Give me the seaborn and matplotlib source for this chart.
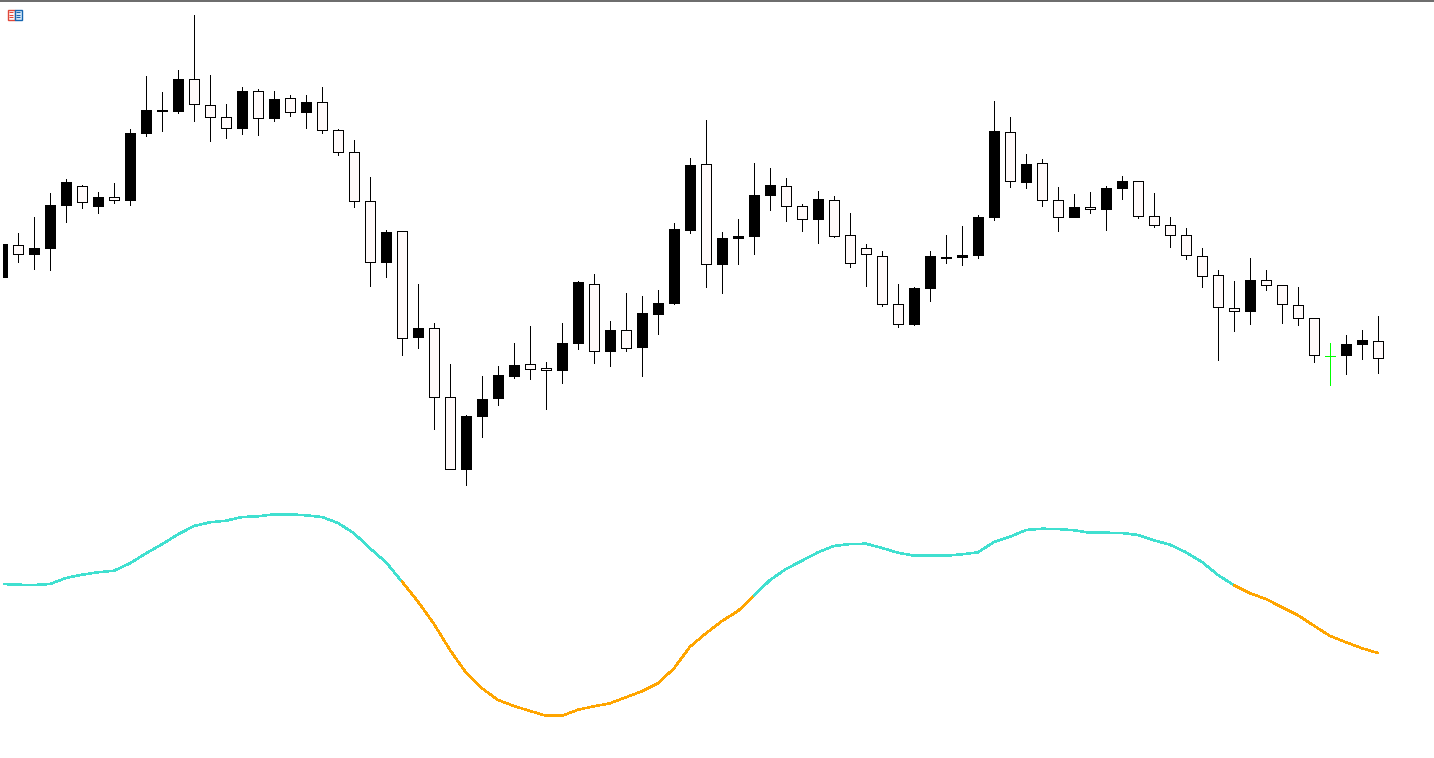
import pandas as pd
import matplotlib
matplotlib.use('Agg')
import matplotlib.pyplot as plt
from matplotlib.patches import Rectangle
import seaborn as sns

# candle values (chart units, 0 = bottom edge)
highs = [514, 525, 541, 565, 579, 573, 566, 575, 629, 682, 666, 688, 743, 683, 654, 671, 669, 667, 663, 663, 671, 629,
         618, 581, 528, 527, 474, 435, 394, 343, 382, 392, 415, 432, 396, 435, 477, 484, 437, 465, 462, 468, 535,
         600, 638, 526, 539, 595, 590, 580, 554, 567, 562, 545, 514, 507, 474, 471, 507, 523, 532, 543, 657,
         641, 604, 599, 571, 564, 566, 572, 582, 577, 565, 541, 530, 510, 488, 477, 500, 488, 473, 471, 440, 415, 423, 428, 442]
body_tops = [514, 513, 510, 553, 576, 572, 561, 561, 625, 648, 648, 679, 679, 653, 641, 667, 667, 659, 660, 656, 656, 628,
             606, 557, 526, 527, 430, 430, 361, 342, 359, 383, 393, 394, 390, 415, 476, 474, 428, 428, 445, 455, 529,
             593, 594, 520, 522, 563, 573, 572, 552, 559, 558, 523, 510, 502, 454, 470, 502, 501, 503, 541, 627,
             626, 594, 595, 558, 551, 551, 570, 577, 577, 542, 533, 523, 502, 483, 450, 478, 478, 473, 453, 440, 402, 414, 418, 417]
body_bottoms = [480, 504, 503, 509, 552, 556, 551, 558, 557, 624, 646, 646, 654, 641, 630, 629, 640, 639, 646, 645, 628, 606,
                557, 496, 495, 420, 420, 361, 289, 288, 341, 359, 381, 389, 388, 387, 414, 407, 406, 410, 410, 443, 454,
                527, 494, 493, 519, 521, 562, 552, 539, 538, 522, 495, 504, 454, 434, 433, 469, 500, 500, 502, 540,
                577, 575, 558, 541, 540, 549, 548, 569, 542, 533, 523, 503, 482, 451, 447, 446, 473, 454, 440, 403, 402, 402, 413, 400]
lows = [480, 495, 488, 487, 535, 549, 544, 554, 552, 621, 626, 644, 636, 616, 619, 623, 622, 636, 641, 629, 624, 602,
        550, 471, 480, 402, 409, 328, 289, 272, 320, 352, 379, 378, 348, 374, 408, 394, 391, 406, 381, 423, 453,
        524, 470, 464, 493, 503, 547, 536, 526, 514, 520, 490, 471, 451, 430, 432, 456, 494, 492, 499, 537,
        570, 569, 551, 526, 540, 544, 527, 558, 539, 530, 510, 498, 470, 397, 426, 433, 467, 434, 432, 395, 372, 383, 398, 384]
kinds = ['B', 'W', 'B', 'B', 'B', 'W', 'B', 'W', 'B', 'B',
         'B', 'B', 'W', 'W', 'W', 'B', 'W', 'B', 'W', 'B',
         'W', 'W', 'W', 'W', 'B', 'W', 'B', 'W', 'W', 'B',
         'B', 'B', 'B', 'W', 'W', 'B', 'B', 'W', 'B', 'W',
         'B', 'B', 'B', 'B', 'W', 'B', 'B', 'B', 'B', 'W',
         'W', 'B', 'W', 'W', 'W', 'W', 'W', 'B', 'B', 'W',
         'B', 'B', 'B', 'W', 'B', 'W', 'W', 'B', 'W', 'B',
         'B', 'W', 'W', 'W', 'W', 'W', 'W', 'W', 'B', 'W',
         'W', 'W', 'W', 'G', 'B', 'B', 'W']

# smoothed indicator below the candles
indicator = [174, 173.3, 173, 174, 180, 183.3, 185.7, 187.3, 194.7, 204.7, 213.7, 223.7, 232, 235.7, 237.3, 241, 241.7,
             243.7, 243.7, 242.7, 241, 235, 224.7, 209.7, 195.7, 176.3,
             156.3, 134, 108, 85.3, 69.7, 58, 52, 47, 42.3, 42.3, 48.3, 51.7, 54.7, 60.7, 66.7, 74.7, 89.7, 111.3,
             124.7, 137, 147, 162.3,
             178, 189, 197.3, 205.7, 212, 214, 214.3, 210, 205.3, 202.3, 202.3, 202.3, 203.7, 205.7, 216, 221.3, 228,
             229.3, 229, 227.7, 225.3, 225.3, 225, 223, 217.7, 213.3, 205.7, 196, 183, 172.7,
             164.7, 159, 150.7, 142.7, 132.3, 122, 115.7, 109.7, 105]
# (first bar, last bar, colour) of each stretch of the indicator
trend_runs = [(0, 25, '#40E0D0'), (25, 47, '#FFA500'), (47, 77, '#40E0D0'), (77, 86, '#FFA500')]

candle_colors = {'B': ('black', 'black'), 'W': ('#FFFAFA', 'black'), 'G': ('#00FF00', '#00FF00')}

df = pd.DataFrame({'bar': range(len(highs)), 'high': highs, 'top': body_tops,
                   'bottom': body_bottoms, 'low': lows, 'kind': kinds, 'indicator': indicator})

# lower edges of wicks and solid bodies were read one unit too low on the zoomed crops
df['low'] = df['low'] + 1
df.loc[df['kind'] == 'B', 'bottom'] += 1

sns.set_theme(style='white')

fig = plt.figure(figsize=(14.34, 7.58), dpi=100, facecolor='white')
ax = fig.add_axes([3 / 1434, 0, 1431 / 1434, 1])

# wicks, then bodies on top
ax.vlines(df['bar'], df['low'], df['high'], colors=[candle_colors[k][1] for k in df['kind']],
          linewidth=0.72, antialiased=False, zorder=2)
ax.bar(df['bar'], df['top'] - df['bottom'], bottom=df['bottom'], width=0.62,
       color=[candle_colors[k][0] for k in df['kind']],
       edgecolor=[candle_colors[k][1] for k in df['kind']],
       linewidth=0.72, antialiased=False, zorder=3)

for start, end, color in trend_runs:
    run = df[(df['bar'] >= start) & (df['bar'] <= end)]
    sns.lineplot(data=run, x='bar', y='indicator', color=color, linewidth=1.1,
                 antialiased=False, ax=ax, zorder=4)

ax.set_xlim(0.0625, 89.5)
ax.set_ylim(0, 758)
ax.axis('off')

# window frame line and the small menu icon in the corner
fig.add_artist(Rectangle((0, 1 - 2 / 758), 1, 2 / 758, transform=fig.transFigure, color='#6e6e6e', lw=0))
icon = fig.add_axes([0, 0, 1, 1], facecolor='none')
icon.set_xlim(0, 1434)
icon.set_ylim(758, 0)
icon.axis('off')
icon.add_patch(Rectangle((7.5, 9.5), 7, 10, fc='white', ec='#e0483a', lw=1))
icon.add_patch(Rectangle((14.5, 9.5), 7, 10, fc='#dcecfa', ec='#1565b0', lw=1))
icon.hlines([12, 14.5, 17], 9, 13, colors='#e0483a', linewidth=0.8)
icon.hlines([12, 14.5, 17], 16, 20, colors='#1565b0', linewidth=0.8)

fig.savefig('out.png', dpi=100, facecolor='white')
